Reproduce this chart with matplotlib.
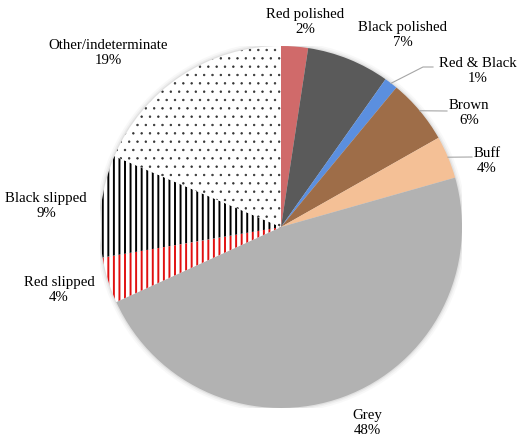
import numpy as np
import matplotlib
matplotlib.use("Agg")
import matplotlib.pyplot as plt
from matplotlib.patches import Circle

# --- データ (時計回り, 12時から) ---
categories = ["Red polished", "Black polished", "Red & Black", "Brown", "Buff",
              "Grey", "Red slipped", "Black slipped", "Other/indeterminate"]
shares = [2.4, 7.4, 1.2, 5.8, 3.8, 47.6, 4.1, 9.1, 18.6]

fills = ["#D06A6A", "#5A5A5A", "#5B8FDF", "#9E6D48", "#F4C096",
         "#B2B2B2", "white", "white", "white"]
hatch_colors = [None, None, None, None, None, None, "#E01010", "black", "#333333"]
hatches = [None, None, None, None, None, None, "|||", "|||", ".."]
hatch_lw = [None, None, None, None, None, None, 1.4, 1.4, 0.5]

# ラベル位置 (ピクセル, 画像座標)
label_px = [(305, 22), (403, 35), (478, 71), (469, 113), (487, 161),
            (367, 423), (59, 290), (46, 206), (108, 53)]
# 引き出し線の途中点 (ピクセル)
leader_px = {2: [(423, 67), (433, 67)], 3: [(447, 111)], 4: [(472, 157)]}

W, H = 519, 441
CX, CY, R = 281, 227, 181


def px2data(p):
    return (p[0] - CX) / R, (CY - p[1]) / R


plt.rcParams["hatch.linewidth"] = 1.4
plt.rcParams["font.family"] = ["Liberation Serif", "DejaVu Serif"]

fig = plt.figure(figsize=(W / 100, H / 100), dpi=100)
ax = fig.add_axes([(CX - R) / W, (H - CY - R) / H, 2 * R / W, 2 * R / H])

# 円の周りの薄い影
for rr, a in [(1.025, 0.05), (1.015, 0.08), (1.007, 0.12)]:
    ax.add_patch(Circle((0, 0), rr, color="#808080", alpha=a, lw=0, zorder=0))

wedges, _ = ax.pie(shares, colors=fills, startangle=90, counterclock=False,
                   radius=1.0, wedgeprops=dict(linewidth=0))

for w, h, hc, hl in zip(wedges, hatches, hatch_colors, hatch_lw):
    w.set_zorder(1)
    if h:
        w.set_hatch(h)
        w.set_edgecolor(hc)
        w.set_linewidth(0)
        if hasattr(w, "set_hatch_linewidth"):
            w.set_hatch_linewidth(hl)
        else:
            w._hatch_linewidth = hl

for i, (name, val) in enumerate(zip(categories, shares)):
    x, y = px2data(label_px[i])
    ax.text(x, y, f"{name}\n{round(val)}%", ha="center", va="center",
            fontsize=10.7, linespacing=1.15, color="black")

# 引き出し線
for i, pts in leader_px.items():
    w = wedges[i]
    mid = np.deg2rad((w.theta1 + w.theta2) / 2)
    xs = [np.cos(mid)]
    ys = [np.sin(mid)]
    for p in pts:
        x, y = px2data(p)
        xs.append(x)
        ys.append(y)
    ax.plot(xs, ys, color="#A6A6A6", lw=0.8, clip_on=False, zorder=3)

ax.set_xlim(-1, 1)
ax.set_ylim(-1, 1)
ax.set_aspect("auto")
ax.axis("off")

fig.savefig("out.png", dpi=100)
